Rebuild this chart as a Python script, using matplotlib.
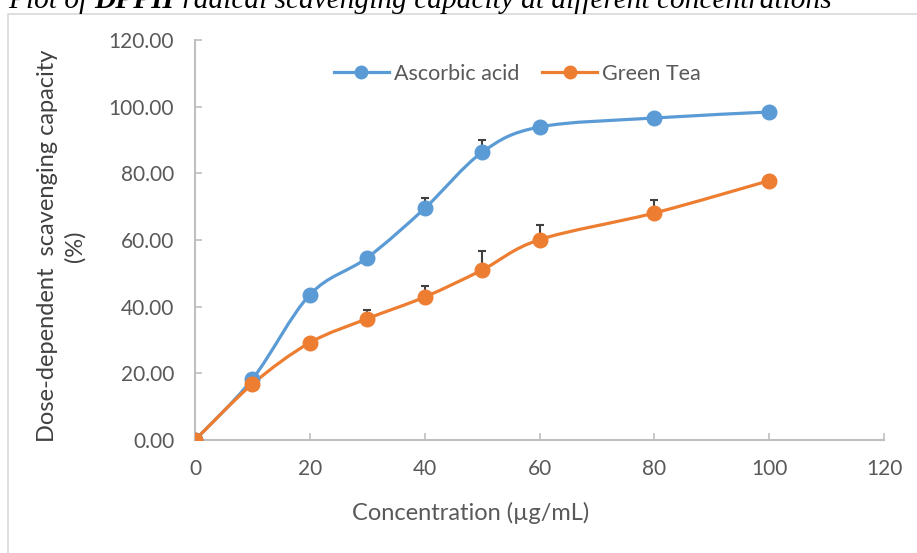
import numpy as np
import matplotlib
matplotlib.use("Agg")
import matplotlib.pyplot as plt
from matplotlib.path import Path
from matplotlib.patches import PathPatch, Rectangle
from matplotlib.lines import Line2D

# data
conc = [0, 10, 20, 30, 40, 50, 60, 80, 100]
ascorbic = [0.0, 18.3, 43.6, 54.7, 69.5, 86.3, 93.9, 96.6, 98.4]
ascorbic_err = [0.5, 1.0, 1.0, 1.0, 3.0, 3.6, 1.0, 1.0, 1.0]
green_tea = [0.0, 16.8, 29.2, 36.4, 42.9, 51.0, 60.1, 68.1, 77.8]
green_tea_err = [0.5, 1.0, 1.0, 2.7, 3.4, 5.7, 4.4, 3.8, 1.0]

blue = "#5B9BD5"
orange = "#ED7D31"
grey_text = "#595959"
axis_grey = "#BFBFBF"

plt.rcParams["font.family"] = ["Lato", "DejaVu Sans"]


def smooth_path(x, y):
    # Excel style smoothed line: Catmull-Rom segments drawn as cubic Beziers
    pts = np.column_stack([x, y]).astype(float)
    verts = [pts[0]]
    codes = [Path.MOVETO]
    n = len(pts)
    for i in range(n - 1):
        p0 = pts[i - 1] if i > 0 else pts[i]
        p1, p2 = pts[i], pts[i + 1]
        p3 = pts[i + 2] if i + 2 < n else pts[i + 1]
        c1 = p1 + (p2 - p0) / 6.0
        c2 = p2 - (p3 - p1) / 6.0
        verts += [c1, c2, p2]
        codes += [Path.CURVE4] * 3
    return Path(verts, codes)


fig = plt.figure(figsize=(9.17, 5.53), dpi=100)
ax = fig.add_axes([0.2127, 0.2043, 0.7513, 0.7234])

for y, err, col in [(ascorbic, ascorbic_err, blue), (green_tea, green_tea_err, orange)]:
    ax.add_patch(PathPatch(smooth_path(conc, y), facecolor="none",
                           edgecolor=col, lw=2.3, zorder=2, capstyle="round"))
    ax.errorbar(conc, y, yerr=[np.zeros(len(err)), err], fmt="none",
                ecolor="#404040", elinewidth=1.5, capsize=3, capthick=1.5, zorder=3)
    ax.plot(conc, y, "o", color=col, ms=10.5, zorder=4)

ax.set_xlim(0, 120)
ax.set_ylim(0, 120)
ax.set_xticks(np.arange(0, 121, 20))
ax.set_yticks(np.arange(0, 121, 20))
ax.set_yticklabels([f"{v:.2f}" for v in np.arange(0, 121, 20)])

for s in ["top", "right"]:
    ax.spines[s].set_visible(False)
for s in ["left", "bottom"]:
    ax.spines[s].set_color(axis_grey)
    ax.spines[s].set_linewidth(1.5)
ax.tick_params(direction="in", length=5, width=1.2, color=axis_grey,
               labelsize=15, labelcolor=grey_text)
ax.tick_params(axis="y", pad=15)
ax.tick_params(axis="x", pad=14)

ax.set_xlabel("Concentration (µg/mL)", fontsize=17, color=grey_text, va="top")
ax.xaxis.set_label_coords(0.40, -0.155)
ax.set_ylabel("Dose-dependent  scavenging capacity\n(%)", fontsize=17,
              color="#404040", linespacing=1.35)
ax.yaxis.set_label_coords(-0.159, 0.485)

handles = [Line2D([], [], color=blue, lw=2.3, marker="o", ms=9),
           Line2D([], [], color=orange, lw=2.3, marker="o", ms=9)]
ax.legend(handles, ["Ascorbic acid", "Green Tea"], loc="center",
          bbox_to_anchor=(0.468, 0.915), ncol=2, frameon=False, fontsize=15.5,
          labelcolor=grey_text, handlelength=2.55, columnspacing=1.05,
          handletextpad=0.25, borderpad=0.1)

# outer border of the chart area
fig.patches.append(Rectangle((8 / 917, -0.1), 1.2, 1 - 14 / 553 + 0.1,
                             transform=fig.transFigure, fill=False,
                             edgecolor="#D9D9D9", lw=1.2))

# title, partly cut off at the top as in the source image
fig.canvas.draw()
renderer = fig.canvas.get_renderer()
x = 8
ty = 1 - 8 / 553
for txt, weight in [("Plot of ", "normal"), ("DPPH", "bold"),
                    (" radical scavenging capacity at different concentrations", "normal")]:
    t = fig.text(x / 917, ty, txt, family="Liberation Serif", style="italic",
                 weight=weight, fontsize=21.2, va="baseline", ha="left")
    x += t.get_window_extent(renderer).width

fig.savefig("out.png", dpi=100)
